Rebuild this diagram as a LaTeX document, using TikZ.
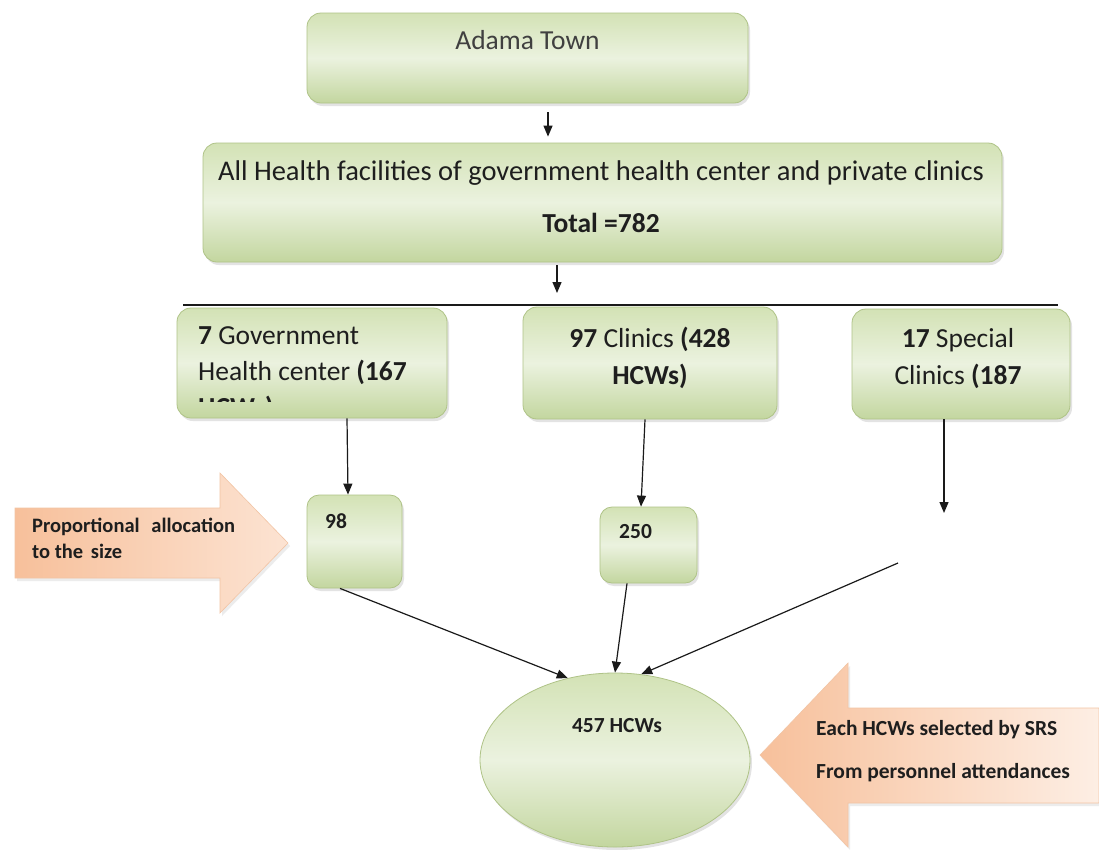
\documentclass[tikz,border=0pt]{standalone}
\usepackage{fontspec}
\setmainfont{Carlito}
\usetikzlibrary{arrows.meta,shapes.geometric,shadows,calc}
\definecolor{gTop}{HTML}{D3E2B5}
\definecolor{gMid}{HTML}{EBF2DF}
\definecolor{gBot}{HTML}{C3D69F}
\definecolor{gLine}{HTML}{AFC387}
\definecolor{oDark}{HTML}{F7C09B}
\definecolor{oLight}{HTML}{FCE3D2}
\definecolor{oLine}{HTML}{F2C4A4}
\definecolor{txt}{HTML}{1E1E1E}
\definecolor{lnc}{HTML}{1A1A1A}
\tikzset{
  gbox/.style={draw=gLine, line width=0.8pt, rounded corners=14pt,
    top color=gTop, bottom color=gBot, middle color=gMid,
    drop shadow={opacity=0.22, shadow xshift=2pt, shadow yshift=-3pt},
    inner sep=0pt},
  sbox/.style={gbox, rounded corners=12pt},
  ellbox/.style={ellipse, draw=gLine, line width=0.8pt,
    top color=gTop, bottom color=gBot, middle color=gMid,
    drop shadow={opacity=0.22, shadow xshift=2pt, shadow yshift=-3pt},
    inner sep=0pt},
  reg/.style={font=\fontsize{27.5}{32}\selectfont, text=txt, inner sep=0pt},
  regb/.style={font=\bfseries\fontsize{27.5}{32}\selectfont, text=txt, inner sep=0pt},
  bsmall/.style={font=\bfseries\fontsize{21.5}{26}\selectfont, text=txt, inner sep=0pt},
  arr/.style={-{Triangle[length=11pt,width=9pt]}, line width=1.2pt, draw=lnc},
  plainline/.style={line width=1.3pt, draw=lnc},
  oarrowR/.style={draw=oLine, line width=0.6pt, left color=oDark, right color=oLight,
    drop shadow={opacity=0.15, shadow xshift=2pt, shadow yshift=-3pt}},
  oarrowL/.style={draw=oLine, line width=0.6pt, left color=oDark, right color=oLight!60!white,
    drop shadow={opacity=0.15, shadow xshift=2pt, shadow yshift=-3pt}}
}
\begin{document}
\begin{tikzpicture}[x=1pt,y=-1pt]
\useasboundingbox[fill=white] (0,0) rectangle (1099,849);

% top boxes
\node[gbox, minimum width=441pt, minimum height=90pt] (box1) at (527.5,58) {};
\node[reg, anchor=base, text=txt!85] (t1) at (527.5,49) {Adama Town};

\node[gbox, minimum width=799pt, minimum height=119pt] (box2) at (602.5,202.5) {};
\node[reg, anchor=base, font=\fontsize{28.5}{32}\selectfont] (t2a) at (601,180) {All Health facilities of government health center and private clinics};
\node[regb, anchor=base] (t2b) at (601,232) {Total =782};

\draw[arr] ([xshift=20.5pt,yshift=-9pt]box1.south) -- ([xshift=-54.5pt,yshift=6pt]box2.north);

% horizontal line
\coordinate (hlL) at (183,305);
\coordinate (hlR) at (1058,305);
\coordinate (a2end) at (557,293);
\draw[arr] ([xshift=-45.5pt,yshift=-3pt]box2.south) -- (a2end);
\draw[plainline] (hlL) -- (hlR);

% three category boxes
\node[gbox, minimum width=270pt, minimum height=110pt] (boxA) at (312,363) {};
\begin{scope}
  \clip (177,308) rectangle (447,401);
  \node[reg, anchor=base west] (tA1) at (198,344) {\textbf{7} Government};
  \node[reg, anchor=base west] (tA2) at (198,380) {Health center \textbf{(167}};
  \node[reg, anchor=base west] (tA3) at (198,416) {\textbf{HCWs)}};
\end{scope}

\node[gbox, minimum width=254pt, minimum height=112pt] (boxB) at (650,363) {};
\node[reg, anchor=base] (tB1) at (650,347) {\textbf{97} Clinics \textbf{(428}};
\node[reg, anchor=base] (tB2) at (650,384) {\textbf{HCWs)}};

\node[gbox, minimum width=218pt, minimum height=110pt] (boxC) at (961,364) {};
\node[reg, anchor=base] (tC1) at (958,347) {\textbf{17} Special};
\node[reg, anchor=base] (tC2) at (958,384) {Clinics \textbf{(187}};

% sample boxes
\node[sbox, minimum width=95pt, minimum height=93pt] (box98) at (354.5,541.5) {};
\node[bsmall, anchor=base west] (t98) at (325,528) {98};
\node[sbox, minimum width=97pt, minimum height=76pt] (box250) at (648.5,545) {};
\node[bsmall, anchor=base west] (t250) at (619,538) {250};

\draw[arr] ([xshift=35pt]boxA.south) -- ([xshift=-6.5pt]box98.north);
\draw[arr] ([xshift=-5pt]boxB.south) -- ([xshift=-7.5pt]box250.north);
\coordinate (cEnd) at (944,513);
\draw[arr] ([xshift=-17pt]boxC.south) -- (cEnd);

% left orange arrow
\path[oarrowR] (15,508) -- (220,508) -- (220,473) -- (288,543) -- (220,613) -- (220,578) -- (15,578) -- cycle;
\node[bsmall, anchor=base west, font=\bfseries\fontsize{20.5}{24}\selectfont] (tL1) at (32,532) {Proportional\hspace{0.35em} allocation};
\node[bsmall, anchor=base west, font=\bfseries\fontsize{20.5}{24}\selectfont] (tL2) at (32,558) {to the\hspace{0.15em} size};

% ellipse
\node[ellbox, minimum width=270pt, minimum height=174pt] (ell) at (615,760) {};
\node[bsmall, anchor=base] (tE) at (617,732) {457 HCWs};

\draw[arr] ([xshift=-14.5pt]box98.south) -- (ell.120);
\draw[arr] ([xshift=-21.5pt]box250.south) -- (ell.90);
\coordinate (free) at (898,563);
\draw[arr] (free) -- (ell.73);

% right orange arrow
\path[oarrowL] (760,755) -- (848,663) -- (848,708) -- (1099,708) -- (1099,803) -- (848,803) -- (848,847) -- cycle;
\node[bsmall, anchor=base west] (tR1) at (816,735) {Each HCWs selected by SRS};
\node[bsmall, anchor=base west] (tR2) at (816,778) {From personnel attendances};
\end{tikzpicture}
\end{document}
